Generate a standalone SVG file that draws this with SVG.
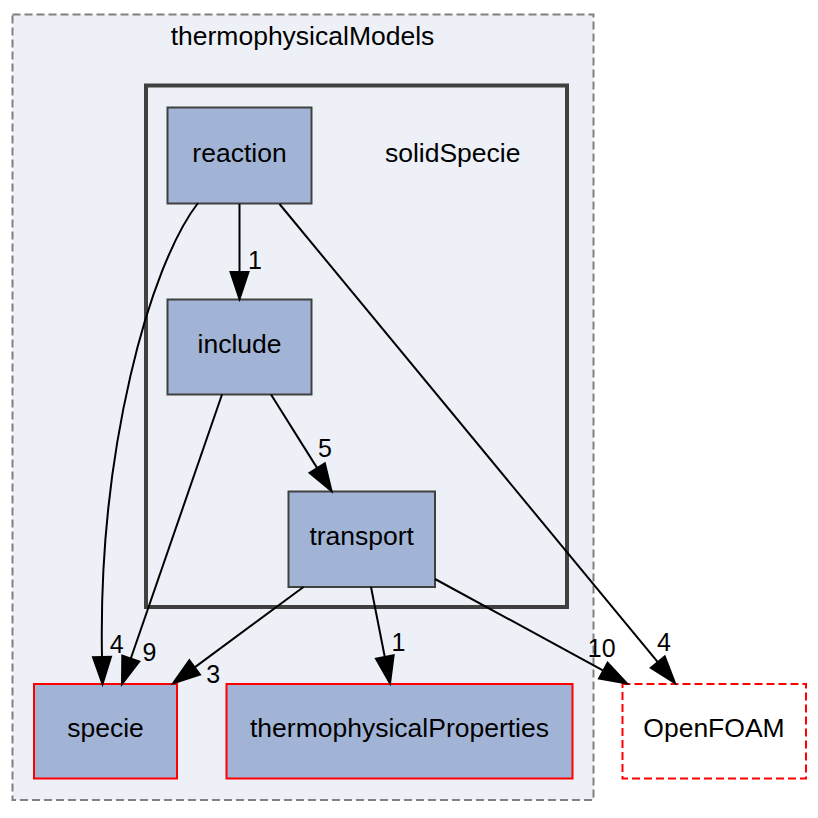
<svg xmlns="http://www.w3.org/2000/svg" width="818" height="818" viewBox="0 0 818 818">
<style>
text{font-family:"Liberation Sans",Arial,Helvetica,sans-serif;fill:#000;text-anchor:middle}
.nl{font-size:26.5px}
.el{font-size:25px}
.node{fill:#a2b4d6;stroke:#404040;stroke-width:2}
.ext{fill:#a2b4d6;stroke:#ff0000;stroke-width:2}
.edge{fill:none;stroke:#000;stroke-width:2}
</style>
<defs>
<marker id="ah" markerUnits="userSpaceOnUse" markerWidth="32" markerHeight="24" viewBox="-2 -12 32 24" refX="0" refY="0" orient="auto" overflow="visible">
<path d="M0,-9 L27,0 L0,9 Z" fill="#000" stroke="#000" stroke-width="2" stroke-linejoin="miter"/>
</marker>
</defs>
<rect width="818" height="818" fill="#fff"/>
<g id="cluster_thermophysicalModels">
<rect x="12.5" y="14.5" width="581" height="785.5" fill="#edf0f7" stroke="#808080" stroke-width="2" stroke-dasharray="8,4"/>
<text class="nl" x="302.5" y="45">thermophysicalModels</text>
</g>
<g id="cluster_solidSpecie">
<rect x="146" y="85.5" width="421" height="521.5" fill="#edf0f7" stroke="#404040" stroke-width="4"/>
<text class="nl" x="452.7" y="161.7">solidSpecie</text>
</g>
<g id="node_reaction">
<rect class="node" x="167.5" y="107.5" width="144" height="96"/>
<text class="nl" x="239.5" y="161.5">reaction</text>
</g>
<g id="node_include">
<rect class="node" x="167.5" y="299.5" width="144" height="95"/>
<text class="nl" x="239.5" y="352.7">include</text>
</g>
<g id="node_transport">
<rect class="node" x="288.5" y="491.5" width="146.5" height="95.5"/>
<text class="nl" x="361.7" y="545">transport</text>
</g>
<g id="node_specie">
<rect class="ext" x="34" y="684" width="143" height="94.5"/>
<text class="nl" x="105.5" y="737">specie</text>
</g>
<g id="node_thermophysicalProperties">
<rect class="ext" x="226.5" y="684" width="346" height="94.5"/>
<text class="nl" x="399.5" y="737">thermophysicalProperties</text>
</g>
<g id="node_OpenFOAM">
<rect x="622.5" y="684" width="183.5" height="94.5" fill="#fff" stroke="#ff0000" stroke-width="2" stroke-dasharray="8,4"/>
<text class="nl" x="714" y="737">OpenFOAM</text>
</g>
<g id="edges">
<path class="edge" marker-end="url(#ah)" d="M239.5,204 V272"/>
<text class="el" x="255" y="269">1</text>
<path class="edge" marker-end="url(#ah)" d="M198,203 C150,265 98,450 102,657"/>
<text class="el" x="116.7" y="653">4</text>
<path class="edge" marker-end="url(#ah)" d="M279.5,204 L657.8,662.2"/>
<text class="el" x="664" y="650.7">4</text>
<path class="edge" marker-end="url(#ah)" d="M222,394.5 L130.8,658.5"/>
<text class="el" x="149.5" y="660.7">9</text>
<path class="edge" marker-end="url(#ah)" d="M271,394.5 L317.2,468.1"/>
<text class="el" x="325" y="457">5</text>
<path class="edge" marker-end="url(#ah)" d="M303.5,587 L194.7,667.4"/>
<text class="el" x="213.3" y="682.5">3</text>
<path class="edge" marker-end="url(#ah)" d="M371,587 L384.8,657"/>
<text class="el" x="398.5" y="650.7">1</text>
<path class="edge" marker-end="url(#ah)" d="M435,579 L603.3,670.6"/>
<text class="el" x="601.7" y="656.7">10</text>
</g>
</svg>
